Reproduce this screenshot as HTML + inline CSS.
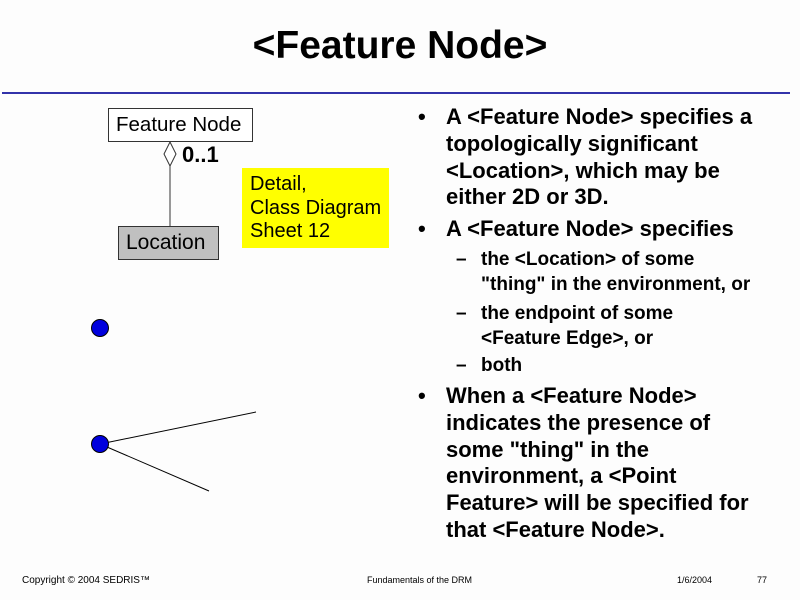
<!DOCTYPE html>
<html><head><style>
body{margin:0;background:#fdfdfd;width:800px;height:600px;overflow:hidden;position:relative;font-family:"Liberation Sans",Arial,sans-serif}
.a{position:absolute;white-space:nowrap}
.b{font-weight:bold;font-size:22px;color:#000;line-height:26.8px}
.s{font-weight:bold;font-size:19px;line-height:25px}
.f{font-size:9px;top:575px}
</style></head><body>
<div class="a" style="left:0;width:800px;text-align:center;top:24px;font-size:39px;font-weight:bold">&lt;Feature Node&gt;</div>
<div class="a" style="left:2px;top:92px;width:788px;height:2px;background:#3333aa"></div>
<svg class="a" style="left:0;top:0" width="800" height="600">
<rect x="108.5" y="108.5" width="144" height="33" fill="#fff" stroke="#333"/>
<rect x="118.5" y="226.5" width="100" height="33" fill="#c0c0c0" stroke="#333"/>
<polygon points="170,142 176,154 170,166 164,154" fill="#fff" stroke="#333"/>
<line x1="170" y1="166" x2="170" y2="226" stroke="#333"/>
<rect x="242" y="168" width="147" height="80" fill="#ffff00"/>
<circle cx="100" cy="328" r="8.5" fill="#0000dd" stroke="#000"/>
<line x1="100" y1="444" x2="256" y2="412" stroke="#000"/>
<line x1="100" y1="444" x2="209" y2="491" stroke="#000"/>
<circle cx="100" cy="444" r="8.5" fill="#0000dd" stroke="#000"/>
</svg>
<div class="a" style="left:116px;top:113px;font-size:20.5px">Feature Node</div>
<div class="a" style="left:126px;top:231px;font-size:21px">Location</div>
<div class="a" style="left:182px;top:142px;font-size:22px;font-weight:bold">0..1</div>
<div class="a" style="left:250px;top:173px;font-size:20px;line-height:23.5px">Detail,<br>Class Diagram<br>Sheet 12</div>
<div class="a b" style="left:418px;top:104px">•</div>
<div class="a b" style="left:446px;top:104px">A &lt;Feature Node&gt; specifies a<br>topologically significant<br>&lt;Location&gt;, which may be<br>either 2D or 3D.</div>
<div class="a b" style="left:418px;top:216px">•</div>
<div class="a b" style="left:446px;top:216px">A &lt;Feature Node&gt; specifies</div>
<div class="a s" style="left:456px;top:247px">–</div>
<div class="a s" style="left:481px;top:247px">the &lt;Location&gt; of some<br>"thing" in the environment, or</div>
<div class="a s" style="left:456px;top:301px">–</div>
<div class="a s" style="left:481px;top:301px">the endpoint of some<br>&lt;Feature Edge&gt;, or</div>
<div class="a s" style="left:456px;top:353px">–</div>
<div class="a s" style="left:481px;top:353px">both</div>
<div class="a b" style="left:418px;top:383px">•</div>
<div class="a b" style="left:446px;top:383px">When a &lt;Feature Node&gt;<br>indicates the presence of<br>some "thing" in the<br>environment, a &lt;Point<br>Feature&gt; will be specified for<br>that &lt;Feature Node&gt;.</div>
<div class="a f" style="left:22px;font-size:10px">Copyright © 2004 SEDRIS™</div>
<div class="a f" style="left:367px">Fundamentals of the DRM</div>
<div class="a f" style="left:677px">1/6/2004</div>
<div class="a f" style="left:757px">77</div>
</body></html>
